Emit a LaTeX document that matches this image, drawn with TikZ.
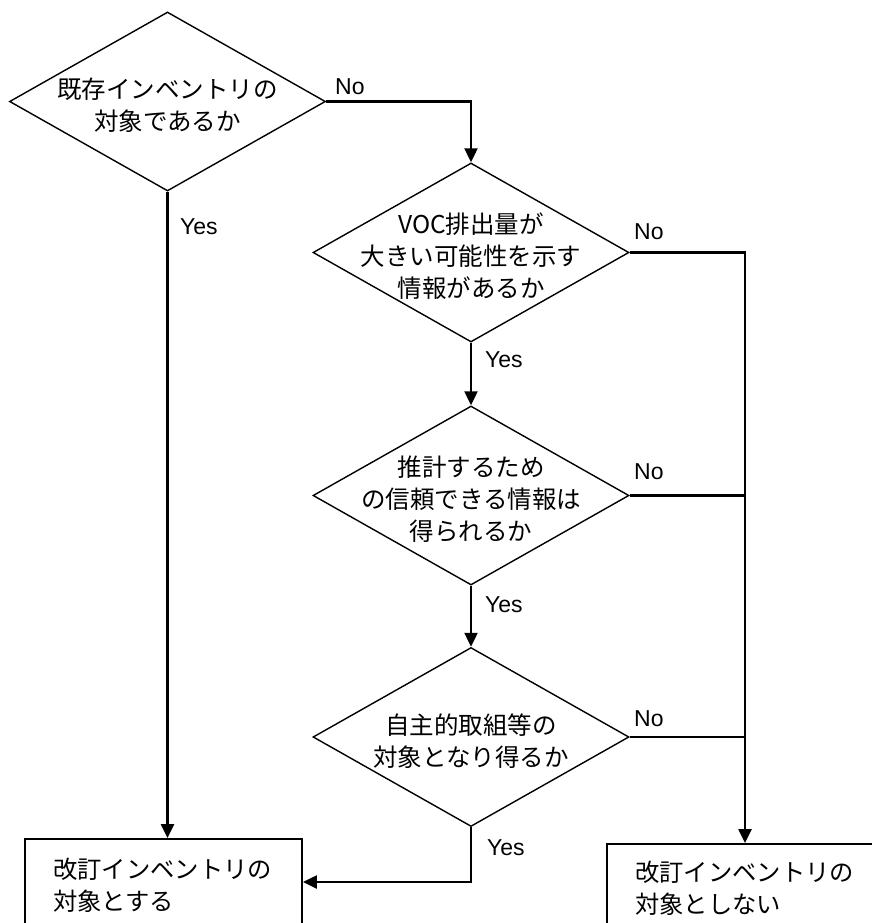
\documentclass[tikz,border=0pt]{standalone}
\usepackage{fontspec}
\setmainfont{Liberation Sans}
\newfontfamily\jpfont{Noto Sans CJK JP}
\usetikzlibrary{shapes.geometric,arrows.meta}
\begin{document}
\begin{tikzpicture}[x=1pt,y=-1pt,
  decision/.style={draw,diamond,line width=1.4pt,minimum width=316pt,minimum height=179pt,inner sep=0pt},
  dtext/.style={align=center,inner sep=0pt,yshift=-4pt,font=\jpfont\fontsize{24.5}{32}\selectfont},
  endbox/.style={draw,rectangle,line width=1.8pt,inner sep=0pt},
  btext/.style={align=left,anchor=west,inner sep=0pt,font=\jpfont\fontsize{24.3}{32}\selectfont},
  lbl/.style={anchor=west,inner sep=0pt,font=\fontsize{23}{26}\selectfont},
  conn/.style={line width=2.2pt},
  arr/.style={conn,-{Triangle[length=14pt,width=13pt]}}]
\useasboundingbox (0,0) rectangle (872,923);
\clip (0,0) rectangle (872,923);
% decisions
\node[decision] (d1) at (167.5,101.5) {};
\node[dtext] (t1) at (d1.center) {既存インベントリの\\対象であるか};
\node[decision] (d2) at (471,252.5) {};
\node[dtext] (t2) at (d2.center) {VOC排出量が\\大きい可能性を示す\\情報があるか};
\node[decision] (d3) at (471,495.5) {};
\node[dtext] (t3) at (d3.center) {推計するため\\の信頼できる情報は\\得られるか};
\node[decision] (d4) at (471,737) {};
\node[dtext] (t4) at (d4.center) {自主的取組等の\\対象となり得るか};
% end boxes
\node[endbox,minimum width=277pt,minimum height=86pt] (lbox) at (163.5,882) {};
\node[btext] (lt) at (53,885) {改訂インベントリの\\対象とする};
\node[endbox,minimum width=276pt,minimum height=86pt] (rbox) at (745,887) {};
\node[btext] (rt) at (635,888) {改訂インベントリの\\対象としない};
% connectors
\draw[arr] (d1.east) -| (d2.north);
\draw[arr] (d1.south) -- (d1.south |- lbox.north);
\draw[arr] (d2.south) -- (d3.north);
\draw[arr] (d3.south) -- (d4.north);
\draw[arr] (d2.east) -| (rbox.north);
\draw[conn] (d3.east) -- (d3.east -| rbox.north);
\draw[conn] (d4.east) -- (d4.east -| rbox.north);
\draw[arr] (d4.south) |- (lbox.east);
% labels
\node[lbl] (n1) at (335,87) {No};
\node[lbl] (n2) at (634,232) {No};
\node[lbl] (n3) at (634,472) {No};
\node[lbl] (n4) at (634,719) {No};
\node[lbl] (y1) at (180,227) {Yes};
\node[lbl] (y2) at (485,360) {Yes};
\node[lbl] (y3) at (485,605) {Yes};
\node[lbl] (y4) at (487,848) {Yes};
\end{tikzpicture}
\end{document}
